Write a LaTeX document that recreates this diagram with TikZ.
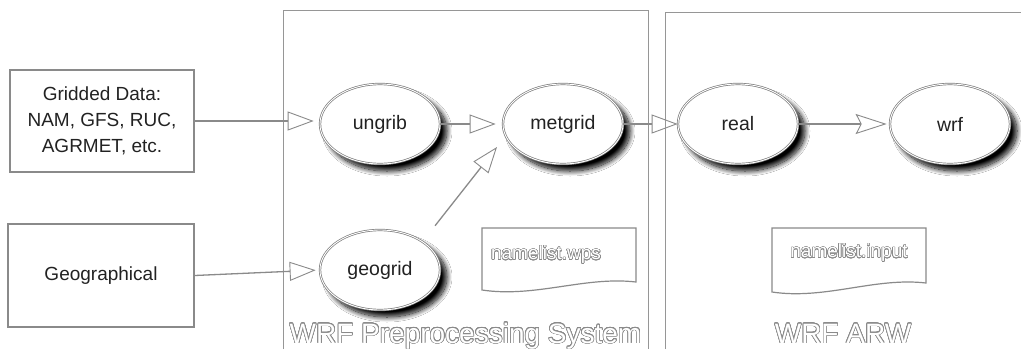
\documentclass[tikz,border=0pt]{standalone}
\usepackage{fontspec}
\setmainfont{Liberation Sans}
\usepackage{contour}
\contourlength{0.7pt}
\contournumber{24}
\usetikzlibrary{arrows.meta,shapes.geometric,shadows.blur}
\definecolor{lnc}{HTML}{8A8A8A}
\definecolor{txc}{HTML}{222222}
\begin{document}
\begin{tikzpicture}[x=1pt,y=-1pt,
  panel/.style={draw=lnc!90, line width=1pt},
  srcbox/.style={draw=lnc, line width=1.4pt,
    minimum width=184pt, minimum height=102pt, align=center, text=txc,
    font=\fontsize{19}{26}\selectfont},
  prog/.style={ellipse, draw=lnc!90!black, double=white, double distance=0.9pt, line width=0.7pt,
    fill=white, minimum width=120pt, minimum height=80pt, inner sep=0pt, text=txc,
    font=\fontsize{19.5}{22}\selectfont,
    blur shadow={shadow xshift=7pt, shadow yshift=-7pt, shadow blur radius=5pt,
      shadow blur steps=16, shadow opacity=100}},
  conn/.style={draw=lnc, line width=1.3pt,
    -{Triangle[open, length=26pt, width=19pt, line width=0.9pt]}},
  sconn/.style={draw=lnc, line width=1.3pt,
    -{Stealth[open, length=31pt, width=20pt, inset=5pt, line width=0.9pt]}},
  doc/.style={draw=lnc, line width=1.2pt, fill=white},
  title/.style={anchor=base, font=\fontsize{28}{30}\selectfont},
  fname/.style={font=\fontsize{19}{22}\selectfont}
]
\useasboundingbox (0,0) rectangle (1021,349);
\fill[white] (0,0) rectangle (1021,349);

% panels
\draw[panel] (283,349) -- (283,10) -- (648,10) -- (648,349);
\draw[panel] (665,349) -- (665,12) -- (1021,12);

% source boxes
\node[srcbox] (grid) at (102,121) {Gridded Data:\\NAM, GFS, RUC,\\AGRMET, etc.};
\node[srcbox, minimum width=186pt, minimum height=103pt] (geo) at (101,275.5) {Geographical};

% programs
\node[prog] (ungrib) at (380,124) {ungrib};
\node[prog] (metgrid) at (563,124) {metgrid};
\node[prog] (geogrid) at (380,270) {geogrid};
\node[prog] (real) at (738,124) {real};
\node[prog] (wrf) at (950,124) {wrf};

% namelist documents
\draw[doc] (482,228) -- (636,228) -- (636,282)
  .. controls (585,276) and (535,298) .. (482,290) -- cycle;
\contourlength{0.5pt}
\node[fname] (nlwps) at (546,255) {{\color{white}\contour{lnc}{namelist.wps}}};
\draw[doc] (772,228) -- (926,228) -- (926,283)
  .. controls (875,277) and (825,300) .. (772,292) -- cycle;
\node[fname] (nlinput) at (849,253) {{\color{white}\contour{lnc}{namelist.input}}};

% titles
\contourlength{0.65pt}
\node[title] (wpst) at (465.5,343) {{\color{white}\contour{lnc}{WRF Preprocessing System}}};
\node[title] (arwt) at (843,343) {{\color{white}\contour{lnc}{WRF ARW}}};

% connectors
\coordinate (gtip) at (497,147);
\draw[conn, shorten >=6pt] (grid.east) -- (grid.east -| ungrib.west);
\draw[conn, shorten >=4pt] (geo.east) -- (geogrid.west);
\draw[conn, shorten >=7pt] (ungrib.east) -- (metgrid.west);
\draw[conn, shorten <=20pt] (geogrid.north east) -- (gtip);
\draw[conn] (metgrid.east) -- (real.west);
\draw[sconn, shorten >=3pt] (real.east) -- (wrf.west);
\end{tikzpicture}
\end{document}
